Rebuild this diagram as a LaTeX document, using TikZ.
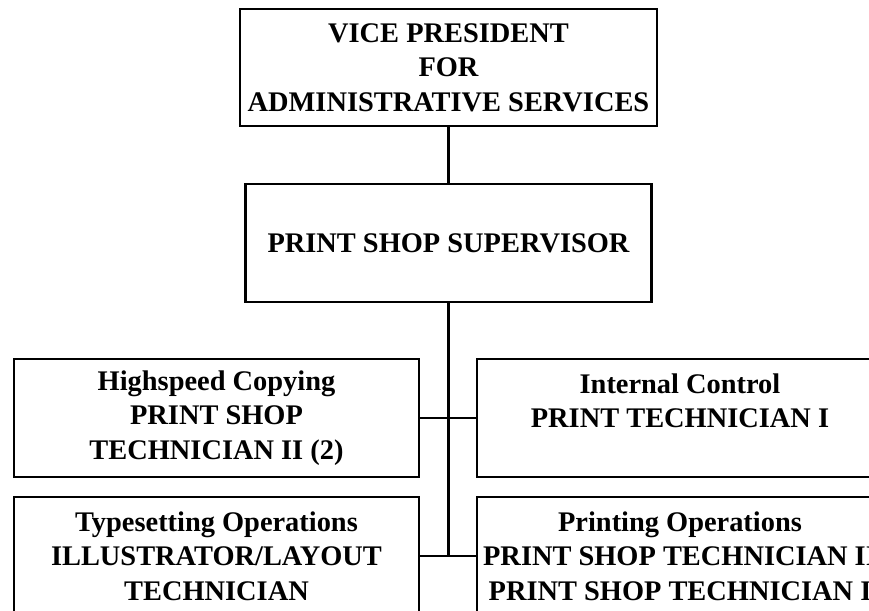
\documentclass[tikz,border=0pt]{standalone}
\usepackage{fontspec}
\setmainfont{Liberation Serif}
\tikzset{every picture/.style={line width=1.6pt}}
\tikzset{unitbox/.style={draw, rectangle, inner sep=0pt, align=center,
  font=\bfseries\fontsize{21.3}{26}\selectfont}}

\begin{document}
\begin{tikzpicture}[x=0.75pt,y=0.75pt,yscale=-1,xscale=1]
\clip (0,0) rectangle (869,611);

% Top
\node [unitbox, minimum width=312.75pt, minimum height=87.75pt] (vp) at (448.5,67.5)
  {VICE PRESIDENT\\FOR\\ADMINISTRATIVE SERVICES};
\node [unitbox, minimum width=304.5pt, minimum height=88.5pt] (sup) at (448.5,243)
  {PRINT SHOP SUPERVISOR};

% Left column
\node [unitbox, minimum width=303.75pt, minimum height=88.5pt] (hsc) at (216.5,418)
  {Highspeed Copying\\PRINT SHOP\\TECHNICIAN II (2)};
\node [unitbox, minimum width=303.75pt, minimum height=88.5pt] (tso) at (216.5,556)
  {Typesetting Operations\\ILLUSTRATOR/LAYOUT\\TECHNICIAN};

% Right column
\node [unitbox, minimum width=304.5pt, minimum height=88.5pt] (inc) at (680,418)
  {Internal Control\\PRINT TECHNICIAN I\\\phantom{I}};
\node [unitbox, minimum width=304.5pt, minimum height=88.5pt] (pro) at (680,556)
  {Printing Operations\\PRINT SHOP TECHNICIAN II\\PRINT SHOP TECHNICIAN I};

% Lines
\coordinate (jn) at (sup.south |- pro.west);
\draw (vp.south) -- (sup.north);
\draw (sup.south) -- (jn);
\draw (hsc.east) -- (inc.west);
\draw (tso.east) -- (pro.west);

\end{tikzpicture}
\end{document}
